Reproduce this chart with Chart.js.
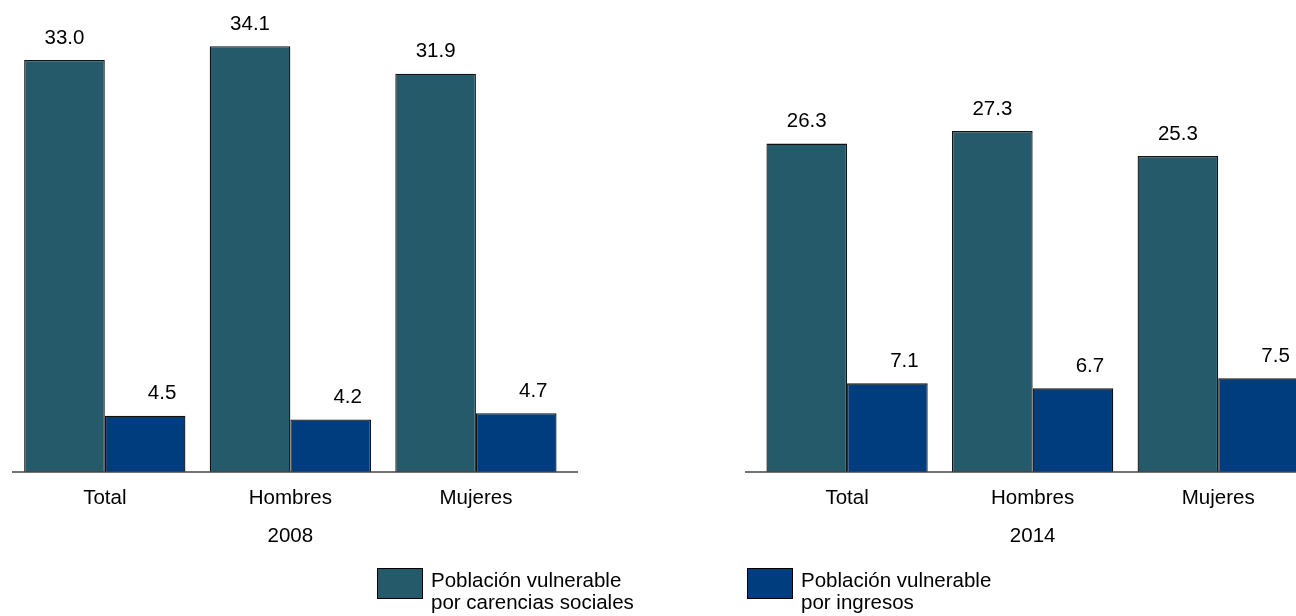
<!DOCTYPE html>
<html>
<head>
<meta charset="utf-8">
<script src="https://cdn.jsdelivr.net/npm/chart.js@4.4.0/dist/chart.umd.min.js"></script>
<style>
  body { margin: 0; overflow: hidden; background: #fff; }
  #wrap { width: 1296px; height: 616px; overflow: hidden; }
</style>
</head>
<body>
<div id="wrap"><canvas id="grafica" width="1312" height="616"></canvas></div>
<script>
const years = ['2008', '2014'];
const categories = ['Total', 'Hombres', 'Mujeres'];
const carencias2008 = [33.0, 34.1, 31.9];
const ingresos2008 = [4.5, 4.2, 4.7];
const carencias2014 = [26.3, 27.3, 25.3];
const ingresos2014 = [7.1, 6.7, 7.5];
const seriesNames = [
    ['Población vulnerable', 'por carencias sociales'],
    ['Población vulnerable', 'por ingresos']
];
const colors = ['#245a69', '#003d7e'];

const FONT = '20.5px "Liberation Sans", Arial, sans-serif';

// 3 categorias, hueco, 3 categorias
let labels = [...categories, '', ...categories];
let dataCarencias = [...carencias2008, null, ...carencias2014];
let dataIngresos = [...ingresos2008, null, ...ingresos2014];

const extras = {
    id: 'extras',
    afterDatasetsDraw(chart) {
        let ctx = chart.ctx;
        let x = chart.scales.x;
        let y = chart.scales.y;
        let base = y.getPixelForValue(0);
        let step = x.getPixelForValue(1) - x.getPixelForValue(0);

        ctx.save();
        // linea base de cada panel
        ctx.strokeStyle = '#444';
        ctx.lineWidth = 1.3;
        [[-0.5, 2.55], [3.45, 6.5]].forEach(r => {
            ctx.beginPath();
            ctx.moveTo(x.getPixelForValue(0) + (r[0]) * step, base);
            ctx.lineTo(x.getPixelForValue(0) + (r[1]) * step, base);
            ctx.stroke();
        });

        ctx.fillStyle = '#000';
        ctx.font = FONT;
        ctx.textAlign = 'center';
        ctx.textBaseline = 'middle';

        // etiquetas de categoria y años
        labels.forEach((l, i) => {
            if (l) ctx.fillText(l, x.getPixelForValue(i), base + 26);
        });
        years.forEach((yr, k) => {
            ctx.fillText(yr, x.getPixelForValue(1 + k * 4), base + 64);
        });

        // valores sobre las barras
        chart.data.datasets.forEach((ds, di) => {
            let meta = chart.getDatasetMeta(di);
            meta.data.forEach((bar, i) => {
                let v = ds.data[i];
                if (v == null) return;
                let dx = di == 1 ? 17 : 0;
                ctx.fillText(v.toFixed(1), bar.x + dx, bar.y - 22);
            });
        });

        // leyenda
        let legendX = [377, 747];
        seriesNames.forEach((lines, i) => {
            ctx.fillStyle = colors[i];
            ctx.fillRect(legendX[i], 568, 45, 30);
            ctx.strokeStyle = '#000';
            ctx.lineWidth = 1;
            ctx.strokeRect(legendX[i] + 0.5, 568.5, 45, 30);
            ctx.fillStyle = '#000';
            ctx.textAlign = 'left';
            lines.forEach((t, j) => {
                ctx.fillText(t, legendX[i] + 54, 581 + j * 22);
            });
        });
        ctx.restore();
    }
};

let ctx = document.querySelector('#grafica');
let chart = new Chart(ctx, {
    type: 'bar',
    data: {
        labels: labels,
        datasets: [{
            label: seriesNames[0].join(' '),
            data: dataCarencias,
            backgroundColor: colors[0],
            borderColor: '#111',
            borderWidth: 1.3,
            categoryPercentage: 0.869,
            barPercentage: 1
        }, {
            label: seriesNames[1].join(' '),
            data: dataIngresos,
            backgroundColor: colors[1],
            borderColor: '#111',
            borderWidth: 1.3,
            categoryPercentage: 0.869,
            barPercentage: 1
        }]
    },
    options: {
        responsive: false,
        animation: false,
        layout: { padding: { left: 12, right: 1, top: 10, bottom: 144 } },
        plugins: {
            legend: { display: false },
            tooltip: { enabled: false }
        },
        scales: {
            x: { display: false },
            y: { display: false, min: 0, max: 37 }
        }
    },
    plugins: [extras]
});
</script>
</body>
</html>
